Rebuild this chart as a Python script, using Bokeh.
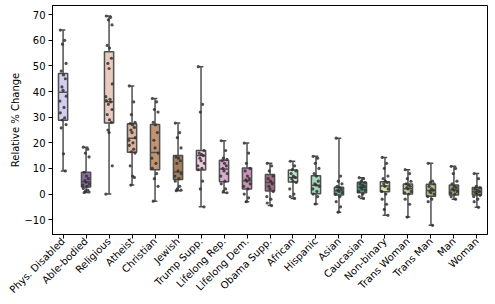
from math import pi
from bokeh.plotting import figure
from bokeh.models import FixedTicker, Range1d
from bokeh.embed import file_html
from bokeh.resources import INLINE

categories = ["Phys. Disabled", "Able-bodied", "Religious", "Atheist", "Christian", "Jewish",
              "Trump Supp.", "Lifelong Rep.", "Lifelong Dem.", "Obama Supp.", "African",
              "Hispanic", "Asian", "Caucasian", "Non-binary", "Trans Woman", "Trans Man",
              "Man", "Woman"]

# box statistics
lo  = [9.0, 0.6, 0.0, 3.5, -2.8, 1.3, -5.0, 0.5, -3.0, -4.5, -1.7, -3.9, -7.1, -1.7, -8.3, -9.0, -12.2, -2.0, -5.2]
q1  = [28.8, 2.7, 27.7, 16.3, 9.5, 5.7, 9.4, 4.8, 2.0, 1.2, 4.7, 0.1, -0.4, 0.5, 0.9, 0.0, -0.9, -0.4, -0.4]
med = [39.7, 4.8, 36.0, 21.8, 16.2, 8.6, 15.0, 9.8, 5.2, 4.5, 6.5, 3.4, 1.3, 2.6, 3.1, 2.1, 1.4, 1.6, 0.9]
q3  = [47.1, 8.5, 55.5, 27.4, 27.1, 15.0, 17.0, 13.2, 10.2, 7.6, 9.4, 7.1, 2.6, 4.6, 4.8, 3.9, 3.8, 3.5, 2.5]
hi  = [64.0, 18.3, 69.5, 42.2, 37.3, 27.7, 49.7, 20.8, 19.9, 12.0, 12.8, 14.7, 21.8, 6.4, 14.3, 9.5, 12.0, 10.8, 8.0]

# individual observations
points = [
    [64, 60, 58.5, 51, 48, 46.5, 45, 41.8, 40.5, 38.2, 36.3, 33.8, 31.7, 29.7, 28.9, 27.1, 25.8, 15.7, 9],
    [18.3, 17.5, 16, 14.5, 8.5, 7, 6, 5.2, 4.6, 4, 3.5, 3, 2.2, 1.5, 1.1, 0.8, 0.6],
    [69.5, 69, 68, 66, 58, 57, 53, 51, 49, 43, 38, 37, 36.5, 36, 35, 33, 31, 29, 28, 25, 24, 11, 0],
    [42.2, 36, 31, 28, 27.5, 27, 26, 25, 24, 22, 21, 20, 19, 17.5, 16.5, 16, 11, 7, 6.5, 3.5],
    [37.3, 36, 33, 32, 28, 27, 24, 21, 18, 16, 14, 12, 10, 8, 6, 3, -2.8],
    [27.7, 24, 22, 18, 14.5, 14, 13, 12, 9, 8, 7, 6, 5, 3, 2, 1.5, 1.3],
    [49.7, 35, 32, 17, 16, 15.5, 15, 14, 13, 12, 11, 10, 9.5, 5, 2, -5],
    [20.8, 17, 14, 13.5, 13, 12, 11, 10, 9, 8, 7, 5, 4, 2, 1, 0.5],
    [19.9, 16, 12, 10, 9, 7, 6, 5.5, 5, 4, 3, 2, 0, -1.5, -3],
    [12, 11, 9, 7, 6, 5, 4, 3, 2, 1, -1, -2, -3.5, -4.5],
    [12.8, 11, 9.5, 9, 8, 7, 6.5, 6, 5, 4.5, 2, 0, -1, -1.7],
    [14.7, 14, 12, 10, 8, 7, 5, 4, 3.5, 3, 2, 1, 0, -1, -3.9],
    [21.8, 7, 5, 4, 3, 2.5, 2, 1.5, 1, 0.5, 0, -1, -3, -5, -7.1],
    [6.4, 6, 5, 4.5, 4, 3.5, 3, 2.5, 2, 1.5, 1, 0, -1, -1.7],
    [14.3, 12, 10, 7, 6, 5, 4.5, 4, 3, 2, 1, 0, -2, -4, -6, -8.3],
    [9.5, 8, 6, 5, 4, 3.5, 3, 2.5, 2, 1, 0.5, 0, -2, -4, -9],
    [12, 5, 4.5, 4, 3, 2, 1.5, 1, 0.5, 0, -1, -2, -3, -12.2],
    [10.8, 10, 8, 5, 4, 3, 2.5, 2, 1.5, 1, 0.5, 0, -1, -2],
    [8, 6, 3, 2.5, 2, 1.5, 1, 0.5, 0, -0.5, -1, -2, -3, -5.2],
]

colors = ["#d2cef0", "#8b6ca2", "#e9cabe", "#dcb59c", "#c29373", "#a27e5a",
          "#f2cbe2", "#dcaace", "#c992b6", "#a96a8a", "#c2e8ce", "#a3d9ba",
          "#72b29a", "#4b9a7a", "#e0e0b2", "#d0d0a2", "#b9b982", "#a2a272", "#8a8e5a"]

y_ticks = [-10, 0, 10, 20, 30, 40, 50, 60, 70]

xs = list(range(len(categories)))

p = figure(width=493, height=302, output_backend="svg", toolbar_location=None,
           x_range=Range1d(-0.46, len(categories) - 0.54), y_range=Range1d(-15.8, 73.6),
           min_border_left=52, min_border_right=6, min_border_top=5, min_border_bottom=60)
p.xgrid.visible = False
p.ygrid.visible = False
p.outline_line_color = "black"
p.outline_line_width = 1
p.background_fill_color = "white"

edge = "#4f4f4f"
bw = 0.4
cw = 0.2

p.segment(x0=xs, y0=lo, x1=xs, y1=q1, line_color=edge, line_width=1.5)
p.segment(x0=xs, y0=q3, x1=xs, y1=hi, line_color=edge, line_width=1.5)
p.segment(x0=[x - cw / 2 for x in xs], y0=hi, x1=[x + cw / 2 for x in xs], y1=hi, line_color=edge, line_width=1.5)
p.segment(x0=[x - cw / 2 for x in xs], y0=lo, x1=[x + cw / 2 for x in xs], y1=lo, line_color=edge, line_width=1.5)
p.vbar(x=xs, width=bw, bottom=q1, top=q3, fill_color=colors, line_color=edge, line_width=1.5)
p.segment(x0=[x - bw / 2 for x in xs], y0=med, x1=[x + bw / 2 for x in xs], y1=med, line_color=edge, line_width=1.5)

offsets = [-0.12, 0.07, -0.03, 0.13, -0.08, 0.02, 0.1, -0.05, 0.0, 0.14, -0.14, 0.04]
px, py = [], []
for i, vals in enumerate(points):
    for j, v in enumerate(vals):
        px.append(i + offsets[j % len(offsets)])
        py.append(v)
p.scatter(x=px, y=py, size=3.2, fill_color="#333333", line_color=None, fill_alpha=0.85)

font = "DejaVu Sans"
p.xaxis.ticker = FixedTicker(ticks=xs)
p.xaxis.major_label_overrides = {i: c for i, c in enumerate(categories)}
p.xaxis.major_label_orientation = pi / 4
p.yaxis.ticker = FixedTicker(ticks=y_ticks)
p.yaxis.major_label_overrides = {-10: "\u221210"}
p.yaxis.axis_label = "Relative % Change"
for ax in (p.xaxis, p.yaxis):
    ax.major_label_text_font = font
    ax.major_label_text_font_size = "10px"
    ax.major_label_text_color = "black"
    ax.axis_line_color = "black"
    ax.major_tick_line_color = "black"
    ax.major_tick_in = 0
    ax.major_tick_out = 4
    ax.minor_tick_line_color = None
    ax.axis_label_text_font = font
    ax.axis_label_text_font_size = "10px"
    ax.axis_label_text_font_style = "normal"
    ax.axis_label_text_color = "black"
p.yaxis.axis_label_standoff = 0
p.yaxis.major_label_standoff = 3
p.xaxis.major_label_standoff = 1

open("out.html", "w").write(file_html(p, INLINE))
